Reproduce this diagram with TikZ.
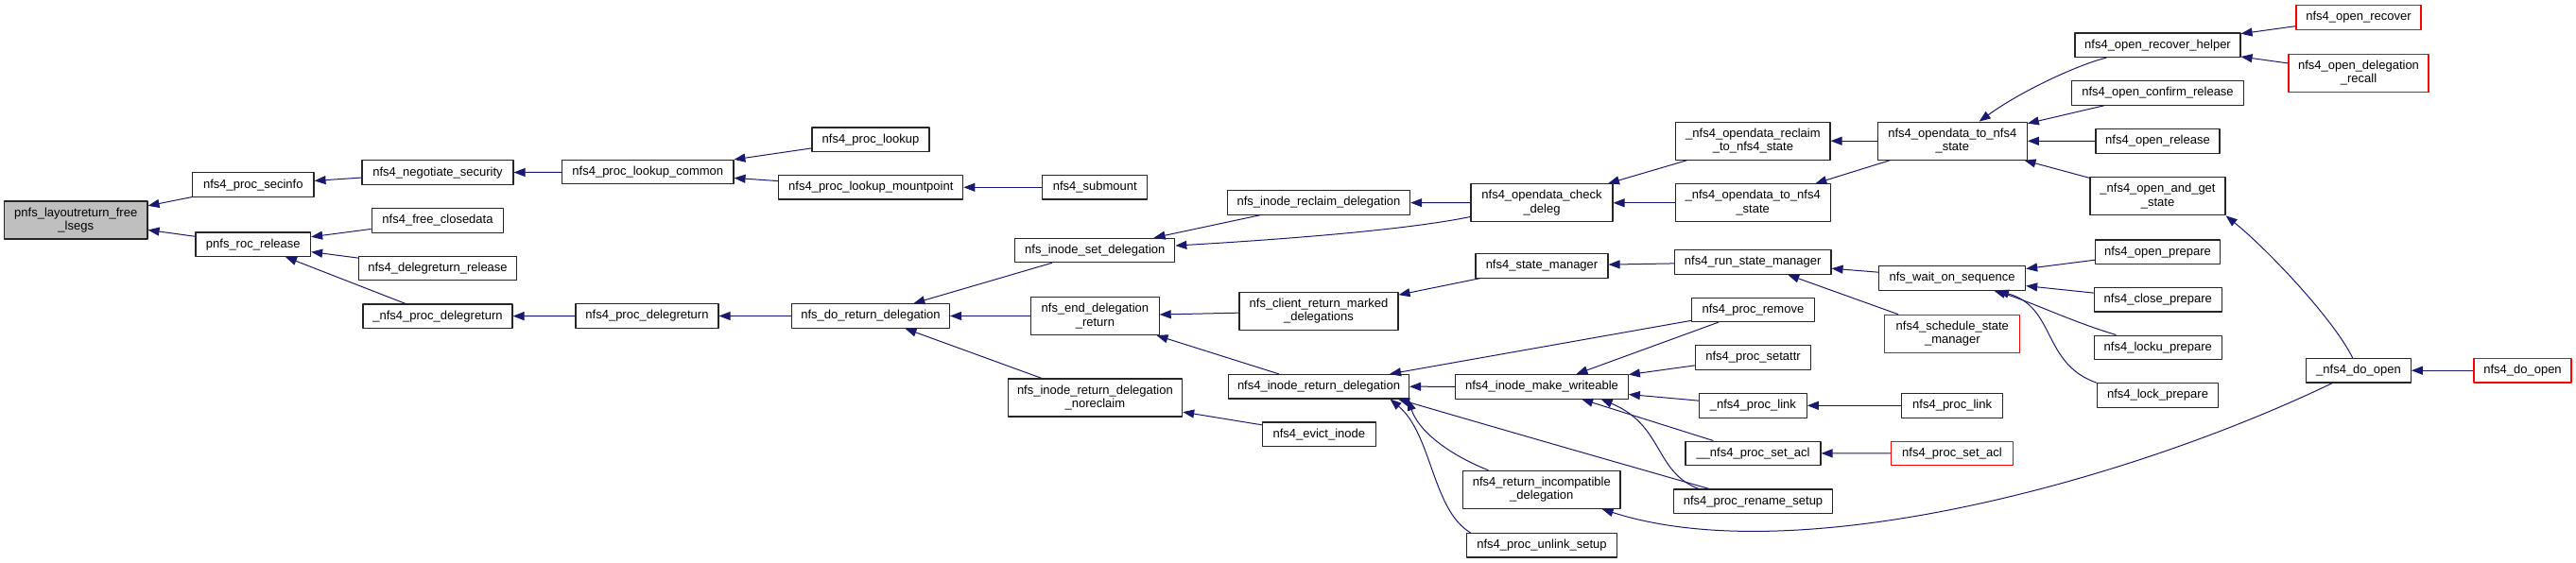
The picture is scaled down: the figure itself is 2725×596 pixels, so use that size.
\documentclass[tikz,border=0pt]{standalone}
\usepackage{fontspec}
\usetikzlibrary{arrows.meta}
\newfontfamily\graphfont{Liberation Sans}
\definecolor{edgeblue}{RGB}{25,25,112}
\definecolor{rootgray}{RGB}{191,191,191}
\tikzset{
  fnbox/.style={draw=black!85, fill=white, line width=1.1pt, inner sep=2pt, font=\graphfont\fontsize{13}{14.5}\selectfont},
  fn/.style={fnbox, minimum height=25.5pt, text height=9.5pt, text depth=2.8pt},
  fntwo/.style={fnbox, minimum height=40pt, align=center},
  rootbox/.style={fill=rootgray},
  redbox/.style={draw=red},
  call/.style={draw=edgeblue, line width=1pt, -{Triangle[length=12pt,width=9pt]}}
}
\begin{document}
\begin{tikzpicture}[x=1pt, y=-1pt, line join=round]
\useasboundingbox (0,0) rectangle (2725,596);
\node[fntwo, rootbox, minimum width=151.5pt] (root) at (80.25,233) {pnfs\_layoutreturn\_free\\\_lsegs};
\node[fn, minimum width=128.4pt] (secinfo) at (267.8,195.7) {nfs4\_proc\_secinfo};
\node[fn, minimum width=121.6pt] (rocrelease) at (267.8,258.7) {pnfs\_roc\_release};
\node[fn, minimum width=160pt] (negsec) at (463,182.7) {nfs4\_negotiate\_security};
\node[fn, minimum width=139.6pt] (freeclose) at (463,233.3) {nfs4\_free\_closedata};
\node[fn, minimum width=167pt] (delegrel) at (463,284) {nfs4\_delegreturn\_release};
\node[fn, minimum width=158pt] (pdelegretx) at (463,334.7) {\_nfs4\_proc\_delegreturn};
\node[fn, minimum width=181.4pt] (lookupcommon) at (685.3,182.2) {nfs4\_proc\_lookup\_common};
\node[fn, minimum width=151pt] (pdelegret) at (684.5,334.5) {nfs4\_proc\_delegreturn};
\node[fn, minimum width=124pt] (lookup) at (921,147.8) {nfs4\_proc\_lookup};
\node[fn, minimum width=195pt] (mountpoint) at (921.3,198.3) {nfs4\_proc\_lookup\_mountpoint};
\node[fn, minimum width=167pt] (doreturn) at (921,334.5) {nfs\_do\_return\_delegation};
\node[fn, minimum width=111pt] (submount) at (1158.3,198.3) {nfs4\_submount};
\node[fn, minimum width=169pt] (setdeleg) at (1158.3,265) {nfs\_inode\_set\_delegation};
\node[fntwo, minimum width=135.5pt] (enddeleg) at (1158.4,334.5) {nfs\_end\_delegation\\\_return};
\node[fntwo, minimum width=184.5pt] (noreclaim) at (1158.4,421) {nfs\_inode\_return\_delegation\\\_noreclaim};
\node[fn, minimum width=193.3pt] (reclaimdeleg) at (1395,214.5) {nfs\_inode\_reclaim\_delegation};
\node[fntwo, minimum width=168pt] (clientmarked) at (1395,329.3) {nfs\_client\_return\_marked\\\_delegations};
\node[fn, minimum width=191pt] (inoderet) at (1395,409.2) {nfs4\_inode\_return\_delegation};
\node[fn, minimum width=120pt] (evict) at (1395.3,459.7) {nfs4\_evict\_inode};
\node[fntwo, minimum width=150pt] (checkdeleg) at (1631,214.8) {nfs4\_opendata\_check\\\_deleg};
\node[fn, minimum width=140pt] (statemgr) at (1631,281.3) {nfs4\_state\_manager};
\node[fn, minimum width=182.6pt] (makewrite) at (1631,409.3) {nfs4\_inode\_make\_writeable};
\node[fntwo, minimum width=166.4pt] (incompat) at (1630.8,518.3) {nfs4\_return\_incompatible\\\_delegation};
\node[fn, minimum width=159pt] (unlink) at (1631,577.2) {nfs4\_proc\_unlink\_setup};
\node[fntwo, minimum width=163.2pt] (reclaimto) at (1854.4,149.2) {\_nfs4\_opendata\_reclaim\\\_to\_nfs4\_state};
\node[fntwo, minimum width=164pt] (dtostatex) at (1854.2,214.8) {\_nfs4\_opendata\_to\_nfs4\\\_state};
\node[fn, minimum width=165.6pt] (runstate) at (1854.2,277.5) {nfs4\_run\_state\_manager};
\node[fn, minimum width=129.3pt] (premove) at (1854.4,327.8) {nfs4\_proc\_remove};
\node[fn, minimum width=122.4pt] (setattr) at (1854.5,378.3) {nfs4\_proc\_setattr};
\node[fn, minimum width=113.7pt] (plinkx) at (1854.4,429.3) {\_nfs4\_proc\_link};
\node[fn, minimum width=143pt] (setaclx) at (1854.5,479.8) {\_\_nfs4\_proc\_set\_acl};
\node[fn, minimum width=168.4pt] (rename) at (1854.5,530.7) {nfs4\_proc\_rename\_setup};
\node[fntwo, minimum width=158pt] (dtostate) at (2065.3,149.2) {nfs4\_opendata\_to\_nfs4\\\_state};
\node[fn, minimum width=155pt] (waitseq) at (2065.1,294.5) {nfs\_wait\_on\_sequence};
\node[fntwo, redbox, minimum width=143pt] (schedstate) at (2065.3,353.3) {nfs4\_schedule\_state\\\_manager};
\node[fn, minimum width=106.8pt] (plink) at (2065.1,429.3) {nfs4\_proc\_link};
\node[fn, redbox, minimum width=128.6pt] (psetacl) at (2064.9,480) {nfs4\_proc\_set\_acl};
\node[fn, minimum width=175pt] (recoverhelper) at (2282.5,47.8) {nfs4\_open\_recover\_helper};
\node[fn, minimum width=181.7pt] (confirmrel) at (2282.5,98.5) {nfs4\_open\_confirm\_release};
\node[fn, minimum width=131pt] (openrel) at (2282.5,149.5) {nfs4\_open\_release};
\node[fntwo, minimum width=143pt] (andget) at (2282.5,207.8) {\_nfs4\_open\_and\_get\\\_state};
\node[fn, minimum width=132.3pt] (openprep) at (2282.5,266.7) {nfs4\_open\_prepare};
\node[fn, minimum width=135pt] (closeprep) at (2282.8,317.2) {nfs4\_close\_prepare};
\node[fn, minimum width=135pt] (lockuprep) at (2282.8,367.8) {nfs4\_locku\_prepare};
\node[fn, minimum width=128.2pt] (lockprep) at (2282.5,418.5) {nfs4\_lock\_prepare};
\node[fn, redbox, minimum width=132pt] (openrecover) at (2495,18.5) {nfs4\_open\_recover};
\node[fntwo, redbox, minimum width=148pt] (delegrecall) at (2495,77.3) {nfs4\_open\_delegation\\\_recall};
\node[fn, minimum width=110.7pt] (doopenx) at (2495,392.2) {\_nfs4\_do\_open};
\node[fn, redbox, minimum width=103pt] (doopen) at (2668.5,392.2) {nfs4\_do\_open};
\draw[call] (secinfo) -- (root);
\draw[call] (rocrelease) -- (root);
\draw[call] (negsec) -- (secinfo);
\draw[call] (freeclose) -- (rocrelease);
\draw[call] (delegrel) -- (rocrelease);
\draw[call] (pdelegretx) -- (rocrelease);
\draw[call] (lookupcommon) -- (negsec);
\draw[call] (pdelegret) -- (pdelegretx);
\draw[call] (lookup) -- (lookupcommon);
\draw[call] (mountpoint) -- (lookupcommon);
\draw[call] (doreturn) -- (pdelegret);
\draw[call] (submount) -- (mountpoint);
\draw[call] (setdeleg) -- (doreturn);
\draw[call] (enddeleg) -- (doreturn);
\draw[call] (noreclaim) -- (doreturn);
\draw[call] (reclaimdeleg) -- (setdeleg);
\draw[call] (checkdeleg.191) .. controls (1480,245) and (1330,255) .. (setdeleg);
\draw[call] (clientmarked) -- (enddeleg);
\draw[call] (inoderet) -- (enddeleg);
\draw[call] (evict) -- (noreclaim);
\draw[call] (checkdeleg) -- (reclaimdeleg);
\draw[call] (statemgr) -- (clientmarked);
\draw[call] (premove) -- (inoderet);
\draw[call] (makewrite) -- (inoderet);
\draw[call] (incompat.160) .. controls (1530,480) and (1500,455) .. (inoderet.-8);
\draw[call] (unlink.170) .. controls (1515,540) and (1515,460) .. (inoderet.-10);
\draw[call] (rename) .. controls (1740,498) and (1600,458) .. (inoderet.-9);
\draw[call] (reclaimto) -- (checkdeleg);
\draw[call] (dtostatex) -- (checkdeleg);
\draw[call] (runstate) -- (statemgr);
\draw[call] (premove) -- (makewrite);
\draw[call] (setattr) -- (makewrite);
\draw[call] (plinkx) -- (makewrite);
\draw[call] (setaclx) -- (makewrite);
\draw[call] (rename.167) .. controls (1750,500) and (1760,450) .. (makewrite.-12);
\draw[call] (dtostate) -- (reclaimto);
\draw[call] (dtostate) -- (dtostatex);
\draw[call] (waitseq) -- (runstate);
\draw[call] (schedstate) -- (runstate);
\draw[call] (plink) -- (plinkx);
\draw[call] (psetacl) -- (setaclx);
\draw[call] (recoverhelper) .. controls (2200,68) and (2140,95) .. (dtostate);
\draw[call] (confirmrel) -- (dtostate);
\draw[call] (openrel) -- (dtostate);
\draw[call] (andget) -- (dtostate);
\draw[call] (openprep) -- (waitseq);
\draw[call] (closeprep) -- (waitseq);
\draw[call] (lockuprep) .. controls (2190,340) and (2150,320) .. (waitseq);
\draw[call] (lockprep.north west) .. controls (2160,385) and (2175,325) .. (waitseq);
\draw[call] (openrecover) -- (recoverhelper);
\draw[call] (delegrecall) -- (recoverhelper);
\draw[call] (doopenx) .. controls (2470,340) and (2400,265) .. (andget.south east);
\draw[call] (doopenx) .. controls (2250,510) and (1900,605) .. (incompat);
\draw[call] (doopen) -- (doopenx);
\end{tikzpicture}
\end{document}
